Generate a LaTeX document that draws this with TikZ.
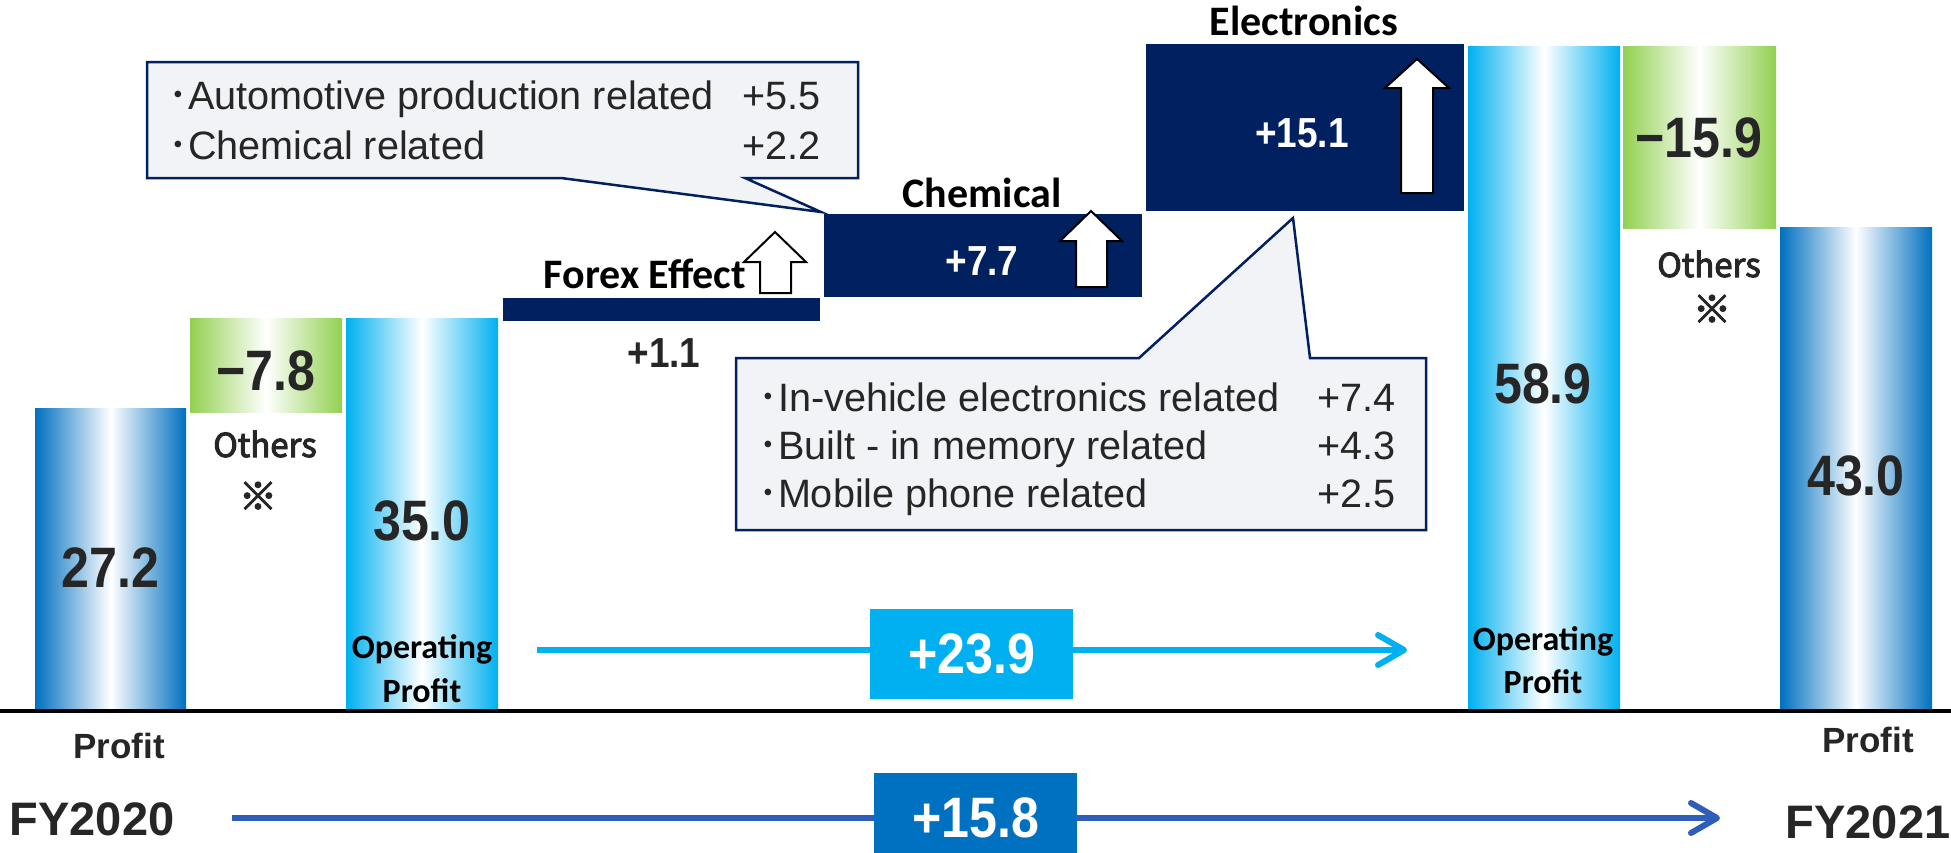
\documentclass[tikz,border=0pt]{standalone}
\usepackage{fontspec}
\setmainfont{Liberation Sans}
\newfontfamily\numf[FakeStretch=0.88]{Liberation Sans}
\newfontfamily\calf{Carlito}
\newfontfamily\cjkf{Noto Sans CJK JP}
\newfontfamily\othf[FakeBold=3]{Noto Sans CJK JP}
\usetikzlibrary{arrows.meta}
\definecolor{cNavy}{HTML}{002060}
\definecolor{cBlue}{HTML}{0070C0}
\definecolor{cLight}{HTML}{00B0F0}
\definecolor{cGreen}{HTML}{92D050}
\definecolor{cDark}{HTML}{262626}
\definecolor{cCall}{HTML}{F2F3F7}
\definecolor{cLine}{HTML}{2F5EBA}
\tikzset{
  barbox/.style={inner sep=0pt, outer sep=0pt, anchor=north west},
  profitbar/.style={barbox, left color=cBlue, right color=cBlue, middle color=white},
  opbar/.style={barbox, left color=cLight, right color=cLight, middle color=white},
  othbar/.style={barbox, left color=cGreen, right color=cGreen, middle color=white},
  navybox/.style={barbox, fill=cNavy},
  big/.style={font=\numf\bfseries\fontsize{57}{57}\selectfont, text=cDark, anchor=base, inner sep=0pt},
  mid/.style={font=\numf\bfseries\fontsize{42}{42}\selectfont, anchor=base, inner sep=0pt},
  lab/.style={font=\calf\bfseries\fontsize{42}{42}\selectfont, text=black, anchor=base, inner sep=0pt},
  oplab/.style={font=\calf\bfseries\fontsize{34}{34}\selectfont, text=black, anchor=base, inner sep=0pt},
  oth/.style={font=\othf\fontsize{33}{33}\selectfont, text=cDark, anchor=base, inner sep=0pt},
  refmark/.style={font=\othf\fontsize{38}{38}\selectfont, text=cDark, anchor=center, inner sep=0pt},
  prof/.style={font=\bfseries\fontsize{35}{35}\selectfont, text=cDark, anchor=base, inner sep=0pt},
  fy/.style={font=\bfseries\fontsize{47}{47}\selectfont, text=cDark, anchor=base, inner sep=0pt},
  calltxt/.style={font=\fontsize{39.6}{39.6}\selectfont, text=cDark, inner sep=0pt},
  callout/.style={fill=cCall, draw=cNavy, line width=2.5pt, line join=miter},
  uparr/.style={fill=white, draw=black, line width=2pt, line join=miter},
  diffbox/.style={minimum width=203pt, minimum height=90pt, inner sep=0pt, text=white,
    font=\numf\bfseries\fontsize{57}{57}\selectfont},
  lbline/.style={draw=cLight, line width=6pt},
  dbline/.style={draw=cLine, line width=6pt},
  chev/.style={-{Straight Barb[length=26pt, width=30pt, round]}}
}
\begin{document}
\begin{tikzpicture}[x=1pt,y=-1pt]
\useasboundingbox (0,0) rectangle (1951,852);

% bars and boxes
\node[profitbar, minimum width=151pt, minimum height=302pt] (b1) at (35,408) {};
\node[othbar, minimum width=152pt, minimum height=94pt] (g1) at (190,318) {};
\node[opbar, minimum width=152pt, minimum height=392pt] (b2) at (346,318) {};
\node[navybox, minimum width=317pt, minimum height=23pt] (fx) at (503,298) {};
\node[navybox, minimum width=318pt, minimum height=83pt] (ch) at (824,214) {};
\node[navybox, minimum width=318pt, minimum height=167pt] (el) at (1146,44) {};
\node[opbar, minimum width=152pt, minimum height=664pt] (b3) at (1468,46) {};
\node[othbar, minimum width=153pt, minimum height=182pt] (g2) at (1623,46) {};
\node[profitbar, minimum width=152pt, minimum height=483pt] (b4) at (1780,227) {};

% base line
\draw[black, line width=4pt] (0,711) -- (1951,711);

% hollow up arrows
\draw[uparr] (775,232) -- (806,262) -- (791,262) -- (791,293) -- (760,293) -- (760,262) -- (744,262) -- cycle;
\draw[uparr] (1091,211) -- (1122,241) -- (1107,241) -- (1107,287) -- (1076,287) -- (1076,241) -- (1060,241) -- cycle;
\draw[uparr] (1417,59) -- (1449,88) -- (1433,88) -- (1433,193) -- (1401,193) -- (1401,88) -- (1385,88) -- cycle;

% callouts
\draw[callout] (147,62) -- (858,62) -- (858,178) -- (745,178) -- (821,212) -- (561,178) -- (147,178) -- cycle;
\draw[callout] (736,358) -- (1139,358) -- (1293,218) -- (1310,358) -- (1426,358) -- (1426,530) -- (736,530) -- cycle;

\node[calltxt, anchor=base west] (c1a) at (168,109) {{\cjkf ･}Automotive production related};
\node[calltxt, anchor=base east] (c1an) at (821,109) {+5.5};
\node[calltxt, anchor=base west] (c1b) at (168,159) {{\cjkf ･}Chemical related};
\node[calltxt, anchor=base east] (c1bn) at (821,159) {+2.2};

\node[calltxt, anchor=base west] (c2a) at (758,411) {{\cjkf ･}In-vehicle electronics related};
\node[calltxt, anchor=base east] (c2an) at (1396,411) {+7.4};
\node[calltxt, anchor=base west] (c2b) at (758,459) {{\cjkf ･}Built - in memory related};
\node[calltxt, anchor=base east] (c2bn) at (1396,459) {+4.3};
\node[calltxt, anchor=base west] (c2c) at (758,507) {{\cjkf ･}Mobile phone related};
\node[calltxt, anchor=base east] (c2cn) at (1396,507) {+2.5};

% texts on bars
\node[big] (t272) at (110.5,587) {27.2};
\node[big] (t78) at (266,390) {−7.8};
\node[big] (t350) at (422,540) {35.0};
\node[oplab] (op1a) at (422,658) {Operating};
\node[oplab] (op1b) at (422,702) {Profit};
\node[oth] (o1) at (265,457) {Others};
\node[refmark] (r1) at (258,496) {※};

\node[lab] (fxl) at (645,288) {Forex Effect};
\node[mid, text=cDark] (fxv) at (664,367) {+1.1};
\node[lab] (chl) at (982,207) {Chemical};
\node[mid, text=white] (chv) at (982,275) {+7.7};
\node[lab] (ell) at (1304,35) {Electronics};
\node[mid, text=white] (elv) at (1302,147) {+15.1};

\node[big] (t589) at (1543,403) {58.9};
\node[oplab] (op2a) at (1543,650) {Operating};
\node[oplab] (op2b) at (1543,693) {Profit};
\node[big] (t159) at (1699,157) {−15.9};
\node[oth] (o2) at (1709,277) {Others};
\node[refmark] (r2) at (1712,309) {※};
\node[big] (t430) at (1856,495) {43.0};

\node[prof] (pl) at (119,758) {Profit};
\node[prof] (pr) at (1868,752) {Profit};
\node[fy] (fy0) at (92,835) {FY2020};
\node[fy] (fy1) at (1868,838) {FY2021};

% difference arrows
\coordinate (lbS) at (537,650);
\coordinate (lbE) at (1407,650);
\coordinate (dbS) at (232,818);
\coordinate (dbE) at (1720,818);
\node[diffbox, fill=cLight] (n239) at (971.5,654) {+23.9};
\node[diffbox, fill=cBlue] (n158) at (975.5,818) {+15.8};
\draw[lbline] (lbS) -- (n239.west |- lbS);
\draw[lbline, chev] (n239.east |- lbS) -- (lbE);
\draw[dbline] (dbS) -- (n158.west);
\draw[dbline, chev] (n158.east) -- (dbE);
\end{tikzpicture}
\end{document}
